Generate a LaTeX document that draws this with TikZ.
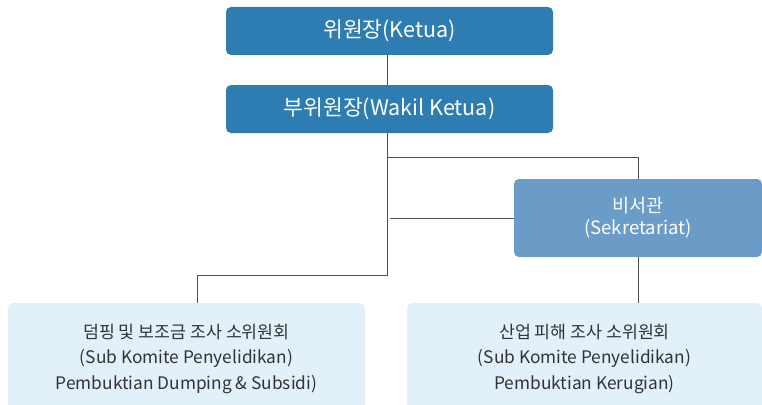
\documentclass[tikz,border=0pt]{standalone}
\usepackage{fontspec}
\setmainfont{Noto Sans CJK KR}
\definecolor{birutua}{HTML}{2E7DB2}
\definecolor{birusek}{HTML}{6B9BC7}
\definecolor{birumuda}{HTML}{E2F0FA}
\definecolor{abugaris}{HTML}{505050}
\definecolor{abuteks}{HTML}{333333}

\begin{document}
\begin{tikzpicture}[x=1pt,y=-1pt,
		kotak/.style={rounded corners=5pt, inner sep=0pt, align=center},
		pimpinan/.style={kotak, fill=birutua, text=white, minimum width=327pt, minimum height=48pt, font=\fontsize{21.5}{24}\selectfont},
		sekretaris/.style={kotak, fill=birusek, text=white, minimum width=248pt, minimum height=78pt, font=\fontsize{18.5}{22}\selectfont},
		subkomite/.style={kotak, fill=birumuda, text=abuteks, minimum height=112pt, font=\fontsize{17.3}{25.5}\selectfont},
		garis/.style={draw=abugaris, line width=0.8pt}]
		\useasboundingbox (0,0) rectangle (762,404);
		
		% kotak-kotak
		\node [pimpinan] (ketua) at (389.5,31) {위원장(Ketua)};
		\node [pimpinan] (wakil) at (389.5,109) {부위원장(Wakil Ketua)};
		
		\coordinate (belok) at (387,157);
		\draw [garis] (belok) -| (638,218);
		\node [sekretaris] (sek) at (638,218) {비서관\\(Sekretariat)};
		
		\node [subkomite, minimum width=357pt] (dumping) at (186.5,359) {덤핑 및 보조금 조사 소위원회\\(Sub Komite Penyelidikan)\\Pembuktian Dumping \& Subsidi)};
		\node [subkomite, minimum width=355pt] (kerugian) at (584.5,359) {산업 피해 조사 소위원회\\(Sub Komite Penyelidikan)\\Pembuktian Kerugian)};
		
		% garis penghubung
		\draw [garis] ([xshift=-2.5pt]ketua.south) -- ([xshift=-2.5pt]wakil.north);
		\coordinate (cabang) at (387,275);
		\coordinate (turun) at (197,275);
		\draw [garis] ([xshift=-2.5pt]wakil.south) -- (cabang) -- (turun) -- (turun |- dumping.north);
		\coordinate (samping) at (390,218);
		\draw [garis] (samping) -- (sek.west);
		\draw [garis] (sek.south) -- (sek.south |- kerugian.north);
\end{tikzpicture}
\end{document}
